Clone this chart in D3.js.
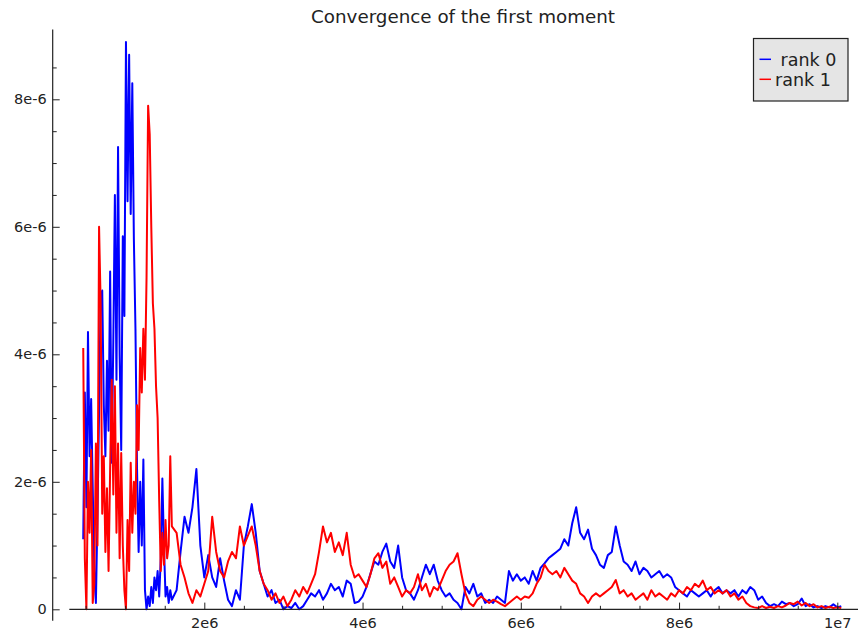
<!DOCTYPE html>
<html>
<head>
<meta charset="utf-8">
<script src="https://cdn.jsdelivr.net/npm/d3@7"></script>
<style>
  html, body { margin: 0; padding: 0; background: #fff; }
  svg { display: block; }
  text { font-family: "DejaVu Sans", sans-serif; fill: #222; }
</style>
</head>
<body>
<svg id="chart" width="858" height="637"></svg>
<script>
// ---- data (x in units of 1e6 steps, y in units of 1e-6) ----
const xMillions = [
  0.47,0.49,0.51,0.53,0.55,0.57,0.59,0.61,0.63,0.65,0.67,0.69,0.71,0.73,0.75,0.77,0.79,0.81,0.83,0.85,
  0.87,0.89,0.91,0.93,0.95,0.97,0.99,1.01,1.03,1.05,1.07,1.09,1.11,1.13,1.15,1.17,1.19,1.21,1.23,1.25,
  1.27,1.29,1.31,1.33,1.35,1.37,1.39,1.41,1.43,1.45,1.47,1.49,1.51,1.53,1.55,1.57,1.59,
  1.65,1.7,1.75,1.8,1.85,1.9,1.95,2,2.05,2.1,
  2.15,2.2,2.25,2.3,2.35,2.4,2.45,2.5,2.55,2.6,
  2.65,2.7,2.75,2.8,2.85,2.9,2.95,3,3.05,3.1,
  3.15,3.2,3.25,3.3,3.35,3.4,3.45,3.5,3.55,3.6,
  3.65,3.7,3.75,3.8,3.85,3.9,3.95,4,4.05,4.1,
  4.15,4.2,4.25,4.3,4.35,4.4,4.45,4.5,4.55,4.6,
  4.65,4.7,4.75,4.8,4.85,4.9,4.95,5,5.05,5.1,
  5.15,5.2,5.25,5.3,5.35,5.4,5.45,5.5,5.55,5.6,
  5.65,5.7,5.75,5.8,5.85,5.9,5.95,6,6.05,6.1,
  6.15,6.2,6.25,6.3,6.35,6.4,6.45,6.5,6.55,6.6,
  6.65,6.7,6.75,6.8,6.85,6.9,6.95,7,7.05,7.1,
  7.15,7.2,7.25,7.3,7.35,7.4,7.45,7.5,7.55,7.6,
  7.65,7.7,7.75,7.8,7.85,7.9,7.95,8,8.05,8.1,
  8.15,8.2,8.25,8.3,8.35,8.4,8.45,8.5,8.55,8.6,
  8.65,8.7,8.75,8.8,8.85,8.9,8.95,9,9.05,9.1,
  9.15,9.2,9.25,9.3,9.35,9.4,9.45,9.5,9.55,9.6,
  9.65,9.7,9.75,9.8,9.85,9.9,9.95,10,10.05
];

const rank0Micro = [
  1.1,3.4,1.6,4.35,2.4,3.3,1.9,0.6,0.1,1.5,3.1,4.9,5.0,3.2,2.4,3.9,2.8,5.3,2.3,4.2,
  6.5,3.6,7.25,4.0,2.5,5.85,4.6,8.9,6.4,8.7,6.2,8.25,5.8,4.4,2.2,0.9,2.0,1.0,2.35,0.3,
  0.0,0.2,0.05,0.35,0.1,0.5,0.3,0.6,0.2,0.8,2.05,1.0,0.2,0.35,0.1,0.3,0.15,
  0.3,0.9,1.45,1.2,1.6,2.2,1.0,0.5,0.85,0.5,
  0.35,0.8,0.45,0.15,0.05,0.3,0.15,1.0,1.3,1.65,
  1.2,0.6,0.4,0.2,0.3,0.1,0.15,0.0,0.05,0.02,
  0.1,0.0,0.05,0.15,0.25,0.2,0.3,0.15,0.25,0.4,
  0.3,0.35,0.2,0.45,0.4,0.1,0.12,0.2,0.35,0.56,
  0.75,0.7,0.9,1.03,0.75,0.65,1.0,0.5,0.3,0.25,
  0.15,0.3,0.5,0.7,0.55,0.7,0.45,0.3,0.2,0.25,
  0.15,0.1,0.0,0.35,0.25,0.4,0.2,0.25,0.1,0.15,
  0.1,0.2,0.15,0.1,0.6,0.45,0.55,0.45,0.5,0.4,
  0.6,0.45,0.65,0.72,0.8,0.85,0.9,0.95,1.1,1.0,
  1.35,1.6,1.2,1.1,1.25,0.95,0.85,0.7,0.65,0.85,
  0.9,1.3,1.0,0.75,0.7,0.6,0.75,0.55,0.65,0.6,
  0.5,0.55,0.6,0.5,0.55,0.5,0.35,0.3,0.25,0.2,
  0.3,0.25,0.2,0.25,0.3,0.2,0.3,0.35,0.25,0.3,
  0.25,0.3,0.2,0.3,0.25,0.35,0.3,0.15,0.2,0.1,
  0.05,0.08,0.05,0.12,0.08,0.1,0.05,0.08,0.17,0.05,
  0.08,0.03,0.05,0.02,0.05,0.03,0.08,0.03,0.05
];

const rank1Micro = [
  4.1,0.8,0.0,2.0,1.2,2.5,0.1,0.4,2.6,1.0,6.0,4.8,1.5,2.4,0.9,1.9,0.6,2.2,3.6,1.8,
  3.5,1.2,2.6,0.8,2.45,1.0,0.3,0.0,1.4,0.6,2.3,1.2,2.0,1.5,3.2,2.5,4.1,3.4,4.4,3.6,
  5.2,7.9,7.45,6.0,4.8,4.4,3.5,3.0,1.7,0.6,1.2,0.7,1.4,0.8,1.0,2.4,1.3,
  1.2,0.7,0.5,0.25,0.1,0.3,0.2,0.4,0.6,1.45,
  0.9,0.6,0.5,0.75,0.9,0.8,1.3,1.0,1.15,1.3,
  1.0,0.6,0.4,0.3,0.15,0.25,0.1,0.2,0.05,0.15,
  0.3,0.2,0.35,0.25,0.4,0.55,0.9,1.3,1.05,1.2,
  0.9,1.05,0.85,1.2,0.7,0.5,0.55,0.45,0.35,0.55,
  0.8,0.88,0.65,0.75,0.4,0.5,0.35,0.2,0.3,0.25,
  0.35,0.55,0.3,0.4,0.2,0.35,0.3,0.45,0.6,0.7,
  0.75,0.88,0.55,0.25,0.1,0.05,0.15,0.2,0.15,0.1,
  0.15,0.12,0.08,0.05,0.1,0.15,0.2,0.15,0.2,0.18,
  0.25,0.4,0.5,0.7,0.6,0.55,0.6,0.5,0.65,0.55,
  0.45,0.4,0.25,0.2,0.1,0.2,0.25,0.2,0.25,0.3,
  0.35,0.46,0.25,0.3,0.2,0.25,0.15,0.2,0.25,0.15,
  0.3,0.2,0.25,0.2,0.15,0.25,0.2,0.3,0.25,0.35,
  0.3,0.4,0.35,0.45,0.3,0.35,0.25,0.3,0.25,0.3,
  0.2,0.25,0.15,0.2,0.1,0.05,0.03,0.02,0.05,0.02,
  0.04,0.02,0.05,0.03,0.06,0.1,0.08,0.12,0.06,0.1,
  0.05,0.08,0.03,0.05,0.02,0.04,0.02,0.03,0.02
];

const seriesNames = ["rank 0", "rank 1"];
const seriesColors = ["#0000ff", "#ff0000"];

const xMajorTicks = [2e6, 4e6, 6e6, 8e6, 1e7];
const xMajorLabels = ["2e6", "4e6", "6e6", "8e6", "1e7"];
const xMinorTicks = [0.5e6,1e6,1.5e6,2.5e6,3e6,3.5e6,4.5e6,5e6,5.5e6,6.5e6,7e6,7.5e6,8.5e6,9e6,9.5e6,1e7];
const yMajorTicks = [0, 2e-6, 4e-6, 6e-6, 8e-6];
const yMajorLabels = ["0", "2e-6", "4e-6", "6e-6", "8e-6"];
const yMinorTicks = [0.5e-6,1e-6,1.5e-6,2.5e-6,3e-6,3.5e-6,4.5e-6,5e-6,5.5e-6,6.5e-6,7e-6,7.5e-6,8.5e-6];

const titleText = "Convergence of the first moment";

// ---- build ----
const series = [rank0Micro, rank1Micro].map((vals, i) => ({
  name: seriesNames[i],
  color: seriesColors[i],
  points: vals.map((v, j) => ({ x: xMillions[j] * 1e6, y: v * 1e-6 }))
}));

const svg = d3.select("#chart");

const x = d3.scaleLinear().domain([2e6, 1e7]).range([204.3, 837.3]);
const y = d3.scaleLinear().domain([0, 8e-6]).range([609.3, 99.3]);

// axis frame lines (Sage-style axes)
const xAxisExtent = [0.294e6, 10.262e6];
const yAxisExtent = [-0.18e-6, 9.095e-6];
const yAxisAtX = 0.084e6;

// series
const line = d3.line().x(d => x(d.x)).y(d => y(d.y));
svg.append("g").selectAll("path").data(series).join("path")
  .attr("d", d => line(d.points))
  .attr("fill", "none")
  .attr("stroke", d => d.color)
  .attr("stroke-width", 2)
  .attr("stroke-linejoin", "round");

const axisColor = "#222";

// x axis
svg.append("line")
  .attr("x1", x(xAxisExtent[0])).attr("x2", x(xAxisExtent[1]))
  .attr("y1", y(0)).attr("y2", y(0))
  .attr("stroke", axisColor).attr("stroke-width", 1.2);

const gxMinor = svg.append("g").attr("transform", `translate(0,${y(0)})`)
  .call(d3.axisBottom(x).tickValues(xMinorTicks).tickSizeInner(-3.5).tickSizeOuter(0).tickFormat(""));
const gx = svg.append("g").attr("transform", `translate(0,${y(0)})`)
  .call(d3.axisBottom(x).tickValues(xMajorTicks).tickSizeInner(-6.7).tickSizeOuter(0).tickPadding(8.4)
    .tickFormat((d, i) => xMajorLabels[i]));

// y axis
svg.append("line")
  .attr("x1", x(yAxisAtX)).attr("x2", x(yAxisAtX))
  .attr("y1", y(yAxisExtent[0])).attr("y2", y(yAxisExtent[1]))
  .attr("stroke", axisColor).attr("stroke-width", 1.2);

const gyMinor = svg.append("g").attr("transform", `translate(${x(yAxisAtX)},0)`)
  .call(d3.axisLeft(y).tickValues(yMinorTicks).tickSizeInner(-4).tickSizeOuter(0).tickFormat(""));
const gy = svg.append("g").attr("transform", `translate(${x(yAxisAtX)},0)`)
  .call(d3.axisLeft(y).tickValues(yMajorTicks).tickSizeInner(-7).tickSizeOuter(0).tickPadding(6)
    .tickFormat((d, i) => yMajorLabels[i]));

[gxMinor, gx, gyMinor, gy].forEach(g => {
  g.select(".domain").remove();
  g.selectAll(".tick line").attr("stroke", axisColor).attr("stroke-width", 1);
  g.selectAll(".tick text")
    .style("font-family", '"DejaVu Sans", sans-serif')
    .style("font-size", "14.5px")
    .attr("fill", "#222");
});

// title
svg.append("text")
  .attr("x", 463).attr("y", 22.7)
  .attr("text-anchor", "middle")
  .style("font-size", "18.3px")
  .text(titleText);

// legend
const legend = svg.append("g");
legend.append("rect")
  .attr("x", 753.5).attr("y", 38.5).attr("width", 94.5).attr("height", 62.5)
  .attr("fill", "#e5e5e5").attr("stroke", "#222").attr("stroke-width", 1.2);
const legendRows = [
  { label: " rank 0", baseline: 65.7, lineY: 59.3, color: seriesColors[0] },
  { label: "rank 1", baseline: 85.7, lineY: 79.3, color: seriesColors[1] }
];
legendRows.forEach(r => {
  legend.append("line")
    .attr("x1", 759.5).attr("x2", 771).attr("y1", r.lineY).attr("y2", r.lineY)
    .attr("stroke", r.color).attr("stroke-width", 1.5);
  legend.append("text")
    .attr("x", 775).attr("y", r.baseline)
    .attr("xml:space", "preserve")
    .style("white-space", "pre")
    .style("font-size", "17.5px")
    .text(r.label);
});
</script>
</body>
</html>
